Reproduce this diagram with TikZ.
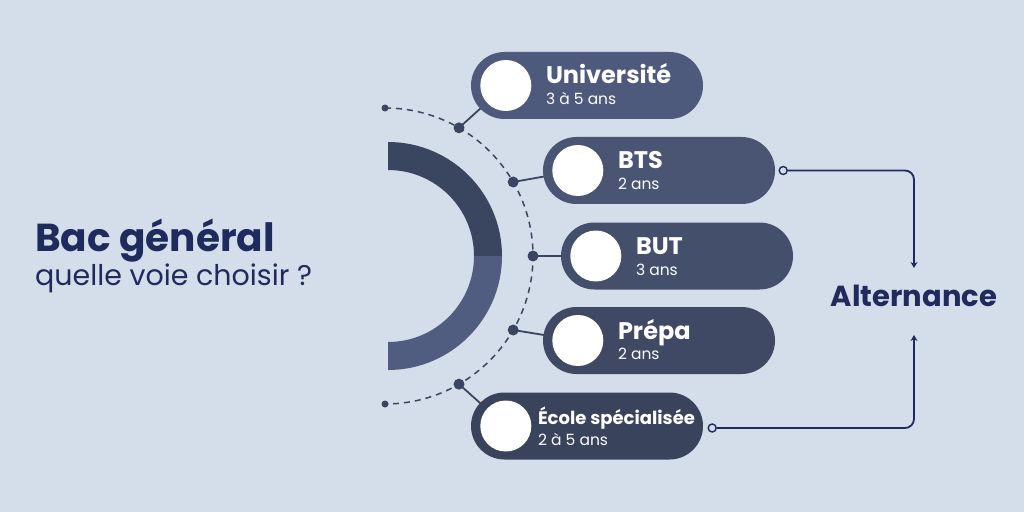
\documentclass[tikz,border=0pt]{standalone}
\usepackage{fontspec}
\setmainfont{Poppins}
\usetikzlibrary{shapes.misc,arrows.meta,positioning,calc}

\definecolor{bgcol}{HTML}{D3DEEA}
\definecolor{navy}{HTML}{1F2B5C}
\definecolor{linecol}{HTML}{3A4560}
\definecolor{ringdark}{HTML}{3A4560}
\definecolor{ringlight}{HTML}{505D80}
\definecolor{pillA}{HTML}{4E5A7B}
\definecolor{pillB}{HTML}{495573}
\definecolor{pillC}{HTML}{444F6B}
\definecolor{pillD}{HTML}{3F4964}
\definecolor{pillE}{HTML}{3A435C}

\pgfdeclarelayer{behind}
\pgfsetlayers{behind,main}

\tikzset{
  pill/.style={rounded rectangle, minimum width=232pt, minimum height=67pt, inner sep=0pt},
  disc/.style={circle, fill=white, minimum size=51pt, inner sep=0pt},
  dot/.style={circle, fill=linecol, minimum size=11pt, inner sep=0pt},
  enddot/.style={circle, fill=linecol, minimum size=7pt, inner sep=0pt},
  spoke/.style={linecol, line width=1.8pt},
  port/.style={circle, draw=navy, fill=bgcol, line width=1.4pt, minimum size=8pt, inner sep=0pt},
  link/.style={navy, line width=1.8pt, rounded corners=9pt, -{Stealth[length=6pt,width=7pt]}},
  pilltitle/.style={text=white, inner sep=0pt, font=\bfseries\fontsize{24}{28}\selectfont},
  pillsub/.style={text=white, inner sep=0pt, font=\fontsize{15.5}{18}\selectfont}
}

\begin{document}
\begin{tikzpicture}[x=1pt,y=1pt]
  \begin{pgfonlayer}{behind}
    \fill[bgcol] (0,0) rectangle (1024,512);
  \end{pgfonlayer}
  \useasboundingbox (0,0) rectangle (1024,512);

  \node[anchor=base west, inner sep=0pt, text=navy, font=\bfseries\fontsize{39}{44}\selectfont] (titre) at (35,261) {Bac général};
  \node[anchor=base west, inner sep=0pt, text=navy, font=\fontsize{28.5}{32}\selectfont] (question) at (35,227) {quelle voie choisir ?};

  \fill[ringdark] (388,370) arc[start angle=90, end angle=0, radius=114] -- (474,256) arc[start angle=0, end angle=90, radius=86] -- cycle;
  \fill[ringlight] (502,256) arc[start angle=0, end angle=-90, radius=114] -- (388,170) arc[start angle=-90, end angle=0, radius=86] -- cycle;

  \draw[linecol, line width=1.5pt, dash pattern=on 6pt off 5pt] (385,404) arc[start angle=90, end angle=-90, radius=148];
  \foreach \a/\n in {60/d1,30/d2,0/d3,-30/d4,-60/d5}
    \node[dot] (\n) at ($(385,256)+(\a:148)$) {};
  \node[enddot] (d0) at (385,404) {};
  \node[enddot] (d6) at (385,108) {};

  \foreach \n/\x/\y/\col/\tx/\titre/\duree in {
      uni/587/426.5/pillA/75/Université/3 à 5 ans,
      bts/659/341.5/pillB/75/BTS/2 ans,
      but/677/256/pillC/75/BUT/3 ans,
      prepa/659/171.5/pillD/75/Prépa/2 ans,
      ecole/587/86/pillE/67/{\fontsize{18}{21}\selectfont École spécialisée}/2 à 5 ans} {
    \node[pill, fill=\col] (\n) at (\x,\y) {};
    \node[disc] (\n-disc) at ([xshift=35pt]\n.west) {};
    \node[pilltitle, anchor=base west] (\n-t) at ([xshift=\tx pt, yshift=1.5pt]\n.west) {\titre};
    \node[pillsub, anchor=base west] (\n-s) at ([xshift=\tx pt, yshift=-19pt]\n.west) {\duree};
  }

  \begin{pgfonlayer}{behind}
    \foreach \d/\n in {d1/uni,d2/bts,d3/but,d4/prepa,d5/ecole}
      \draw[spoke] (\d.center) -- (\n-disc.center);
  \end{pgfonlayer}

  \node[anchor=base, inner sep=0pt, text=navy, font=\bfseries\fontsize{29}{33}\selectfont] (alt) at (914,206) {Alternance};
  \coordinate (alt-in1) at (914,244);
  \coordinate (alt-in2) at (914,177);
  \node[port] (p1) at ([xshift=8pt]bts.east) {};
  \node[port] (p2) at ([xshift=9pt,yshift=-2pt]ecole.east) {};
  \draw[link] (p1) -| (alt-in1);
  \draw[link] (p2) -| (alt-in2);
\end{tikzpicture}
\end{document}
